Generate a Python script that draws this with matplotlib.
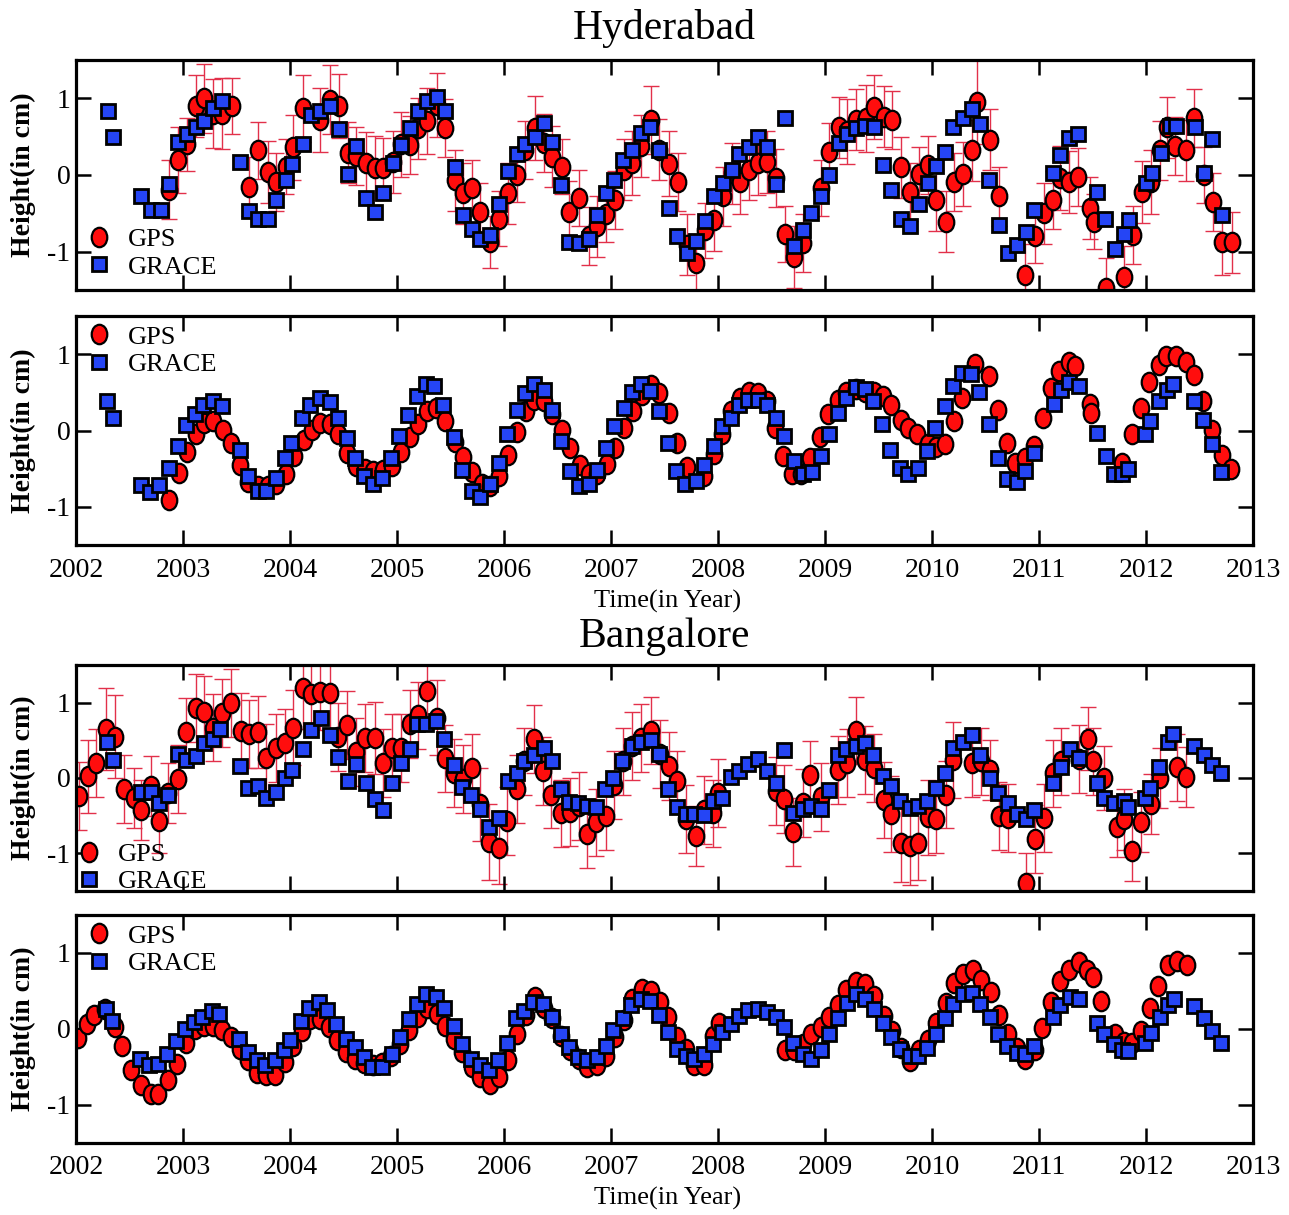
import matplotlib
matplotlib.use("Agg")
import matplotlib.pyplot as plt
from matplotlib.path import Path
from matplotlib.transforms import Affine2D

# ---- Hyderabad, observed (top panel) ----
hyd_gps_t = [2002.87, 2002.95, 2003.04, 2003.12, 2003.20, 2003.28, 2003.36, 2003.46, 2003.62, 2003.70,
             2003.79, 2003.87, 2003.96, 2004.03, 2004.12, 2004.28, 2004.37, 2004.46, 2004.54, 2004.62,
             2004.71, 2004.79, 2004.87, 2004.96, 2005.04, 2005.12, 2005.20, 2005.28, 2005.37, 2005.45,
             2005.54, 2005.62, 2005.70, 2005.78, 2005.87, 2005.95, 2006.04, 2006.12, 2006.20, 2006.29,
             2006.37, 2006.45, 2006.54, 2006.61, 2006.70, 2006.79, 2006.87, 2006.95, 2007.04, 2007.12,
             2007.20, 2007.28, 2007.37, 2007.45, 2007.54, 2007.63, 2007.71, 2007.79, 2007.88, 2007.96,
             2008.05, 2008.13, 2008.21, 2008.29, 2008.37, 2008.46, 2008.54, 2008.63, 2008.71, 2008.79,
             2008.96, 2009.04, 2009.13, 2009.21, 2009.29, 2009.38, 2009.46, 2009.55, 2009.63, 2009.71,
             2009.79, 2009.88, 2009.96, 2010.04, 2010.13, 2010.21, 2010.29, 2010.37, 2010.42, 2010.54,
             2010.63, 2010.87, 2010.96, 2011.05, 2011.13, 2011.20, 2011.28, 2011.36, 2011.48, 2011.51,
             2011.63, 2011.79, 2011.88, 2011.96, 2012.05, 2012.13, 2012.20, 2012.27, 2012.37, 2012.45,
             2012.54, 2012.63, 2012.71, 2012.80]
hyd_gps_h = [-0.19, 0.20, 0.40, 0.90, 1.00, 0.80, 0.80, 0.90, -0.15, 0.32,
             0.04, -0.09, 0.11, 0.36, 0.87, 0.72, 0.98, 0.90, 0.29, 0.25,
             0.16, 0.09, 0.09, 0.17, 0.40, 0.39, 0.61, 0.70, 0.91, 0.61,
             -0.07, -0.24, -0.17, -0.48, -0.87, -0.57, -0.24, 0.00, 0.33, 0.61,
             0.42, 0.24, 0.11, -0.48, -0.30, -0.80, -0.67, -0.51, -0.33, 0.07,
             0.16, 0.38, 0.72, 0.33, 0.15, -0.09, -0.91, -1.15, -0.72, -0.59,
             -0.28, 0.02, -0.09, 0.06, 0.16, 0.17, -0.04, -0.77, -1.07, -0.89,
             -0.17, 0.30, 0.62, 0.57, 0.72, 0.74, 0.89, 0.76, 0.72, 0.10,
             -0.22, 0.01, 0.13, -0.33, -0.61, -0.09, 0.01, 0.32, 0.95, 0.46,
             -0.28, -1.30, -0.79, -0.50, -0.33, -0.04, -0.09, -0.03, -0.43, -0.61,
             -1.48, -1.33, -0.78, -0.22, -0.09, 0.32, 0.62, 0.38, 0.32, 0.74,
             0.00, -0.35, -0.88, -0.88]
hyd_gps_err = [0.38, 0.43, 0.35, 0.41, 0.45, 0.45, 0.46, 0.37, 0.39, 0.37,
               0.41, 0.38, 0.36, 0.42, 0.44, 0.42, 0.45, 0.42, 0.40, 0.38,
               0.40, 0.42, 0.39, 0.40, 0.42, 0.38, 0.40, 0.43, 0.42, 0.38,
               0.40, 0.40, 0.37, 0.38, 0.34, 0.36, 0.40, 0.35, 0.38, 0.42,
               0.38, 0.40, 0.36, 0.40, 0.36, 0.38, 0.40, 0.36, 0.38, 0.40,
               0.42, 0.40, 0.44, 0.40, 0.42, 0.38, 0.40, 0.38, 0.36, 0.40,
               0.38, 0.40, 0.42, 0.38, 0.42, 0.40, 0.38, 0.36, 0.40, 0.38,
               0.36, 0.38, 0.40, 0.42, 0.40, 0.44, 0.42, 0.40, 0.38, 0.40,
               0.38, 0.36, 0.38, 0.40, 0.40, 0.38, 0.42, 0.40, 0.55, 0.40,
               0.38, 0.40, 0.36, 0.40, 0.38, 0.42, 0.40, 0.38, 0.40, 0.36,
               0.40, 0.40, 0.38, 0.40, 0.42, 0.38, 0.40, 0.38, 0.40, 0.38,
               0.36, 0.38, 0.42, 0.40]
hyd_grace_t = [2002.30, 2002.35, 2002.61, 2002.70, 2002.79, 2002.87, 2002.95, 2003.04, 2003.12, 2003.20,
               2003.28, 2003.36, 2003.53, 2003.62, 2003.70, 2003.79, 2003.87, 2003.96, 2004.02, 2004.12,
               2004.20, 2004.28, 2004.37, 2004.46, 2004.54, 2004.62, 2004.71, 2004.79, 2004.87, 2004.96,
               2005.04, 2005.12, 2005.20, 2005.28, 2005.37, 2005.45, 2005.54, 2005.62, 2005.70, 2005.78,
               2005.87, 2005.95, 2006.04, 2006.12, 2006.20, 2006.29, 2006.37, 2006.45, 2006.53, 2006.61,
               2006.70, 2006.79, 2006.87, 2006.95, 2007.03, 2007.11, 2007.20, 2007.28, 2007.36, 2007.45,
               2007.54, 2007.62, 2007.71, 2007.79, 2007.88, 2007.96, 2008.05, 2008.13, 2008.20, 2008.29,
               2008.37, 2008.46, 2008.54, 2008.63, 2008.71, 2008.79, 2008.87, 2008.96, 2009.04, 2009.13,
               2009.21, 2009.29, 2009.37, 2009.46, 2009.54, 2009.62, 2009.71, 2009.79, 2009.88, 2009.96,
               2010.04, 2010.12, 2010.20, 2010.29, 2010.37, 2010.45, 2010.53, 2010.63, 2010.71, 2010.79,
               2010.88, 2010.95, 2011.13, 2011.20, 2011.28, 2011.36, 2011.54, 2011.62, 2011.71, 2011.79,
               2011.84, 2012.00, 2012.06, 2012.14, 2012.22, 2012.28, 2012.46, 2012.54, 2012.62, 2012.71]
hyd_grace_h = [0.83, 0.50, -0.28, -0.46, -0.45, -0.12, 0.43, 0.54, 0.63, 0.70,
               0.87, 0.97, 0.17, -0.47, -0.57, -0.57, -0.32, -0.06, 0.14, 0.40,
               0.78, 0.83, 0.90, 0.60, 0.01, 0.38, -0.30, -0.48, -0.23, 0.16,
               0.39, 0.61, 0.83, 0.96, 1.02, 0.83, 0.10, -0.52, -0.70, -0.84,
               -0.78, -0.38, 0.05, 0.28, 0.40, 0.49, 0.68, 0.43, -0.13, -0.88,
               -0.89, -0.83, -0.52, -0.23, -0.06, 0.20, 0.32, 0.55, 0.63, 0.33,
               -0.43, -0.80, -1.02, -0.86, -0.60, -0.28, -0.11, 0.06, 0.27, 0.36,
               0.49, 0.36, -0.12, 0.74, -0.93, -0.72, -0.49, -0.27, 0.00, 0.42,
               0.53, 0.61, 0.64, 0.63, 0.13, -0.20, -0.57, -0.67, -0.38, -0.11,
               0.12, 0.30, 0.62, 0.74, 0.86, 0.67, -0.06, -0.65, -1.02, -0.91,
               -0.74, -0.46, 0.03, 0.26, 0.48, 0.53, -0.22, -0.58, -0.97, -0.77,
               -0.59, -0.10, 0.03, 0.29, 0.64, 0.64, 0.63, 0.02, 0.47, -0.52]

# ---- Hyderabad, second panel ----
hyd2_gps_t = [2002.87, 2002.96, 2003.04, 2003.12, 2003.20, 2003.28, 2003.37, 2003.45, 2003.53, 2003.61,
              2003.70, 2003.79, 2003.87, 2003.96, 2004.04, 2004.13, 2004.21, 2004.28, 2004.37, 2004.45,
              2004.53, 2004.62, 2004.70, 2004.78, 2004.87, 2004.95, 2005.04, 2005.12, 2005.20, 2005.28,
              2005.36, 2005.45, 2005.54, 2005.62, 2005.70, 2005.79, 2005.87, 2005.95, 2006.04, 2006.12,
              2006.21, 2006.28, 2006.37, 2006.45, 2006.54, 2006.62, 2006.71, 2006.79, 2006.87, 2006.96,
              2007.04, 2007.12, 2007.21, 2007.29, 2007.37, 2007.45, 2007.54, 2007.62, 2007.71, 2007.87,
              2007.96, 2008.04, 2008.12, 2008.21, 2008.29, 2008.37, 2008.46, 2008.53, 2008.61, 2008.69,
              2008.78, 2008.86, 2008.95, 2009.03, 2009.12, 2009.20, 2009.29, 2009.37, 2009.46, 2009.54,
              2009.62, 2009.71, 2009.78, 2009.86, 2009.96, 2010.04, 2010.12, 2010.21, 2010.28, 2010.40,
              2010.53, 2010.62, 2010.70, 2010.78, 2010.87, 2010.95, 2011.04, 2011.11, 2011.19, 2011.28,
              2011.34, 2011.48, 2011.49, 2011.78, 2011.87, 2011.95, 2012.03, 2012.12, 2012.19, 2012.28,
              2012.37, 2012.45, 2012.53, 2012.62, 2012.71, 2012.79]
hyd2_gps_h = [-0.91, -0.56, -0.28, -0.04, 0.10, 0.12, 0.01, -0.17, -0.45, -0.68,
              -0.73, -0.73, -0.70, -0.57, -0.33, -0.12, 0.01, 0.10, 0.09, -0.04,
              -0.29, -0.47, -0.51, -0.53, -0.52, -0.47, -0.28, -0.09, 0.08, 0.25,
              0.29, 0.12, -0.15, -0.35, -0.55, -0.70, -0.73, -0.60, -0.32, -0.02,
              0.25, 0.40, 0.38, 0.21, 0.01, -0.23, -0.45, -0.57, -0.57, -0.44,
              -0.23, 0.03, 0.26, 0.46, 0.60, 0.49, 0.23, -0.16, -0.48, -0.60,
              -0.31, -0.05, 0.26, 0.43, 0.51, 0.49, 0.39, 0.03, -0.33, -0.57,
              -0.57, -0.36, -0.09, 0.22, 0.40, 0.51, 0.55, 0.51, 0.51, 0.45,
              0.34, 0.14, 0.03, -0.05, -0.18, -0.22, -0.18, 0.13, 0.42, 0.87,
              0.71, 0.27, -0.16, -0.42, -0.36, -0.20, 0.17, 0.56, 0.78, 0.90,
              0.84, 0.35, 0.23, -0.42, -0.05, 0.30, 0.63, 0.86, 0.97, 0.98,
              0.90, 0.73, 0.39, 0.01, -0.32, -0.51]
hyd2_grace_t = [2002.29, 2002.35, 2002.61, 2002.69, 2002.78, 2002.87, 2002.95, 2003.03, 2003.11, 2003.19,
                2003.28, 2003.36, 2003.53, 2003.61, 2003.70, 2003.78, 2003.87, 2003.95, 2004.01, 2004.11,
                2004.19, 2004.28, 2004.37, 2004.45, 2004.53, 2004.61, 2004.69, 2004.78, 2004.86, 2004.94,
                2005.02, 2005.10, 2005.19, 2005.27, 2005.35, 2005.43, 2005.53, 2005.61, 2005.70, 2005.78,
                2005.87, 2005.95, 2006.03, 2006.12, 2006.20, 2006.28, 2006.37, 2006.45, 2006.53, 2006.62,
                2006.70, 2006.79, 2006.87, 2006.95, 2007.03, 2007.12, 2007.20, 2007.28, 2007.36, 2007.45,
                2007.53, 2007.61, 2007.69, 2007.79, 2007.87, 2007.96, 2008.04, 2008.12, 2008.20, 2008.28,
                2008.37, 2008.46, 2008.54, 2008.62, 2008.71, 2008.79, 2008.88, 2008.96, 2009.04, 2009.12,
                2009.20, 2009.29, 2009.37, 2009.45, 2009.53, 2009.61, 2009.70, 2009.78, 2009.87, 2009.95,
                2010.03, 2010.12, 2010.20, 2010.28, 2010.36, 2010.44, 2010.53, 2010.62, 2010.70, 2010.79,
                2010.87, 2010.95, 2011.14, 2011.21, 2011.28, 2011.37, 2011.54, 2011.63, 2011.70, 2011.78,
                2011.83, 2011.99, 2012.04, 2012.12, 2012.20, 2012.25, 2012.45, 2012.53, 2012.62, 2012.70]
hyd2_grace_h = [0.39, 0.16, -0.71, -0.80, -0.71, -0.49, -0.20, 0.07, 0.21, 0.34,
                0.38, 0.32, -0.26, -0.60, -0.79, -0.79, -0.62, -0.36, -0.16, 0.16,
                0.34, 0.43, 0.37, 0.16, -0.10, -0.36, -0.60, -0.70, -0.62, -0.36,
                -0.07, 0.20, 0.45, 0.61, 0.58, 0.34, -0.09, -0.52, -0.79, -0.87,
                -0.70, -0.42, -0.05, 0.27, 0.49, 0.61, 0.53, 0.27, -0.14, -0.53,
                -0.73, -0.70, -0.52, -0.23, 0.06, 0.30, 0.51, 0.61, 0.52, 0.25,
                -0.17, -0.53, -0.70, -0.66, -0.45, -0.20, 0.06, 0.17, 0.34, 0.40,
                0.40, 0.33, 0.17, -0.07, -0.40, -0.57, -0.55, -0.33, -0.05, 0.23,
                0.43, 0.57, 0.55, 0.39, 0.08, -0.25, -0.49, -0.57, -0.49, -0.27,
                0.03, 0.32, 0.58, 0.75, 0.74, 0.51, 0.08, -0.36, -0.64, -0.68,
                -0.53, -0.30, 0.35, 0.53, 0.64, 0.58, -0.03, -0.33, -0.57, -0.57,
                -0.51, -0.04, 0.12, 0.38, 0.53, 0.61, 0.39, 0.14, -0.18, -0.55]

# ---- Bangalore, observed ----
ban_gps_t = [2002.03, 2002.11, 2002.19, 2002.28, 2002.36, 2002.45, 2002.54, 2002.61, 2002.70, 2002.78,
             2002.86, 2002.95, 2003.03, 2003.12, 2003.20, 2003.28, 2003.36, 2003.45, 2003.54, 2003.62,
             2003.70, 2003.78, 2003.87, 2003.95, 2004.03, 2004.12, 2004.20, 2004.28, 2004.37, 2004.45,
             2004.53, 2004.62, 2004.70, 2004.79, 2004.87, 2004.95, 2005.04, 2005.12, 2005.20, 2005.28,
             2005.37, 2005.45, 2005.53, 2005.62, 2005.70, 2005.78, 2005.86, 2005.95, 2006.03, 2006.12,
             2006.19, 2006.28, 2006.36, 2006.44, 2006.53, 2006.62, 2006.70, 2006.78, 2006.86, 2006.95,
             2007.03, 2007.11, 2007.20, 2007.28, 2007.37, 2007.46, 2007.54, 2007.62, 2007.70, 2007.79,
             2007.87, 2007.95, 2008.00, 2008.54, 2008.62, 2008.70, 2008.79, 2008.86, 2008.96, 2009.12,
             2009.21, 2009.29, 2009.37, 2009.46, 2009.55, 2009.62, 2009.71, 2009.79, 2009.87, 2009.96,
             2010.04, 2010.13, 2010.20, 2010.37, 2010.46, 2010.54, 2010.63, 2010.71, 2010.88, 2010.96,
             2011.05, 2011.13, 2011.21, 2011.37, 2011.46, 2011.50, 2011.61, 2011.73, 2011.79, 2011.87,
             2011.95, 2012.05, 2012.13, 2012.29, 2012.37]
ban_gps_h = [-0.24, 0.02, 0.20, 0.65, 0.55, -0.15, -0.27, -0.42, -0.11, -0.57,
             -0.20, -0.01, 0.61, 0.93, 0.87, 0.67, 0.86, 1.00, 0.63, 0.58,
             0.61, 0.27, 0.40, 0.47, 0.67, 1.20, 1.11, 1.14, 1.13, 0.54,
             0.70, 0.35, 0.53, 0.53, 0.20, 0.40, 0.40, 0.72, 0.83, 1.15,
             0.80, 0.26, 0.07, -0.01, 0.13, -0.35, -0.85, -0.93, -0.57, -0.15,
             0.22, 0.52, 0.09, -0.22, -0.47, -0.45, -0.37, -0.75, -0.59, -0.51,
             -0.09, 0.22, 0.42, 0.53, 0.63, 0.32, 0.16, -0.04, -0.54, -0.77,
             -0.42, -0.47, -0.20, -0.17, -0.28, -0.72, -0.33, 0.04, -0.25, 0.11,
             0.20, 0.63, 0.24, 0.13, -0.29, -0.48, -0.86, -0.90, -0.86, -0.52,
             -0.55, -0.22, 0.24, 0.20, 0.22, 0.11, -0.50, -0.53, -1.40, -0.81,
             -0.53, 0.06, 0.22, 0.25, 0.52, 0.22, 0.00, -0.65, -0.55, -0.97,
             -0.58, -0.35, 0.00, 0.14, 0.01]
ban_gps_err = [0.45, 0.48, 0.45, 0.55, 0.55, 0.45, 0.40, 0.40, 0.40, 0.42,
               0.40, 0.45, 0.45, 0.45, 0.48, 0.45, 0.45, 0.45, 0.50, 0.45,
               0.48, 0.45, 0.45, 0.45, 0.50, 0.55, 0.50, 0.50, 0.50, 0.45,
               0.45, 0.45, 0.45, 0.48, 0.45, 0.45, 0.45, 0.45, 0.45, 0.45,
               0.50, 0.45, 0.45, 0.45, 0.45, 0.48, 0.50, 0.48, 0.45, 0.45,
               0.45, 0.45, 0.45, 0.45, 0.45, 0.45, 0.45, 0.45, 0.45, 0.45,
               0.45, 0.45, 0.45, 0.45, 0.45, 0.45, 0.45, 0.40, 0.45, 0.40,
               0.45, 0.45, 0.45, 0.45, 0.45, 0.45, 0.45, 0.45, 0.45, 0.45,
               0.45, 0.45, 0.45, 0.45, 0.50, 0.50, 0.52, 0.52, 0.50, 0.50,
               0.45, 0.45, 0.50, 0.45, 0.45, 0.40, 0.45, 0.45, 0.40, 0.45,
               0.45, 0.45, 0.45, 0.45, 0.42, 0.45, 0.42, 0.40, 0.40, 0.40,
               0.40, 0.40, 0.40, 0.45, 0.40]
ban_grace_t = [2002.29, 2002.35, 2002.61, 2002.70, 2002.78, 2002.86, 2002.95, 2003.03, 2003.12, 2003.20,
               2003.28, 2003.35, 2003.53, 2003.61, 2003.70, 2003.78, 2003.87, 2003.95, 2004.02, 2004.12,
               2004.20, 2004.29, 2004.37, 2004.45, 2004.54, 2004.62, 2004.71, 2004.79, 2004.87, 2004.95,
               2005.04, 2005.12, 2005.19, 2005.27, 2005.36, 2005.44, 2005.53, 2005.61, 2005.69, 2005.78,
               2005.86, 2005.95, 2006.04, 2006.12, 2006.19, 2006.28, 2006.37, 2006.45, 2006.53, 2006.61,
               2006.69, 2006.78, 2006.86, 2006.94, 2007.02, 2007.10, 2007.20, 2007.28, 2007.37, 2007.45,
               2007.53, 2007.62, 2007.70, 2007.78, 2007.87, 2007.95, 2008.04, 2008.12, 2008.20, 2008.28,
               2008.37, 2008.46, 2008.54, 2008.62, 2008.70, 2008.79, 2008.87, 2008.96, 2009.04, 2009.12,
               2009.20, 2009.29, 2009.37, 2009.45, 2009.54, 2009.62, 2009.70, 2009.79, 2009.87, 2009.95,
               2010.04, 2010.12, 2010.20, 2010.29, 2010.37, 2010.45, 2010.54, 2010.62, 2010.71, 2010.79,
               2010.88, 2010.95, 2011.13, 2011.21, 2011.29, 2011.37, 2011.54, 2011.61, 2011.70, 2011.79,
               2011.83, 2011.99, 2012.04, 2012.12, 2012.21, 2012.25, 2012.45, 2012.54, 2012.62, 2012.70]
ban_grace_h = [0.48, 0.24, -0.19, -0.19, -0.33, -0.22, 0.32, 0.24, 0.29, 0.47,
               0.52, 0.65, 0.16, -0.13, -0.10, -0.27, -0.19, 0.00, 0.11, 0.38,
               0.64, 0.80, 0.57, 0.28, -0.04, 0.19, -0.06, -0.28, -0.43, -0.06,
               0.20, 0.39, 0.72, 0.72, 0.76, 0.52, 0.17, -0.12, -0.22, -0.41,
               -0.65, -0.53, -0.04, 0.06, 0.23, 0.30, 0.40, 0.23, -0.14, -0.32,
               -0.33, -0.37, -0.38, -0.14, 0.00, 0.23, 0.43, 0.48, 0.50, 0.32,
               -0.14, -0.39, -0.48, -0.48, -0.49, -0.30, -0.27, 0.01, 0.09, 0.19,
               0.25, 0.09, -0.07, 0.37, -0.47, -0.41, -0.37, -0.41, -0.16, 0.30,
               0.39, 0.42, 0.46, 0.30, 0.02, -0.10, -0.30, -0.40, -0.37, -0.30,
               -0.13, 0.07, 0.40, 0.48, 0.57, 0.31, 0.00, -0.20, -0.33, -0.48,
               -0.55, -0.43, -0.07, 0.14, 0.39, 0.26, -0.07, -0.27, -0.33, -0.30,
               -0.38, -0.27, -0.13, 0.15, 0.48, 0.58, 0.43, 0.30, 0.17, 0.07]

# ---- Bangalore, second panel ----
ban2_gps_t = [2002.02, 2002.10, 2002.17, 2002.27, 2002.36, 2002.43, 2002.51, 2002.61, 2002.70, 2002.77,
              2002.86, 2002.94, 2003.03, 2003.11, 2003.20, 2003.28, 2003.36, 2003.45, 2003.53, 2003.61,
              2003.69, 2003.78, 2003.86, 2003.95, 2004.03, 2004.11, 2004.19, 2004.28, 2004.36, 2004.44,
              2004.52, 2004.61, 2004.69, 2004.78, 2004.86, 2004.94, 2005.03, 2005.11, 2005.20, 2005.28,
              2005.37, 2005.45, 2005.53, 2005.61, 2005.70, 2005.78, 2005.87, 2005.95, 2006.04, 2006.12,
              2006.21, 2006.29, 2006.37, 2006.45, 2006.53, 2006.62, 2006.70, 2006.78, 2006.87, 2006.95,
              2007.04, 2007.12, 2007.20, 2007.29, 2007.37, 2007.46, 2007.53, 2007.62, 2007.70, 2007.78,
              2007.87, 2007.95, 2008.01, 2008.63, 2008.71, 2008.79, 2008.87, 2008.96, 2009.04, 2009.12,
              2009.20, 2009.29, 2009.37, 2009.46, 2009.55, 2009.63, 2009.71, 2009.79, 2009.88, 2009.96,
              2010.04, 2010.13, 2010.21, 2010.29, 2010.38, 2010.46, 2010.55, 2010.63, 2010.71, 2010.79,
              2010.87, 2010.96, 2011.03, 2011.11, 2011.20, 2011.28, 2011.37, 2011.45, 2011.50, 2011.58,
              2011.71, 2011.79, 2011.87, 2011.95, 2012.04, 2012.11, 2012.21, 2012.29, 2012.38]
ban2_gps_h = [-0.12, 0.06, 0.19, 0.26, 0.03, -0.22, -0.54, -0.74, -0.85, -0.86,
              -0.67, -0.46, -0.19, 0.00, 0.04, 0.04, -0.01, -0.11, -0.26, -0.41,
              -0.58, -0.61, -0.61, -0.43, -0.23, -0.02, 0.13, 0.13, 0.02, -0.15,
              -0.30, -0.40, -0.45, -0.47, -0.45, -0.35, -0.20, -0.01, 0.16, 0.28,
              0.20, 0.04, -0.13, -0.30, -0.50, -0.63, -0.72, -0.63, -0.41, -0.07,
              0.19, 0.42, 0.28, 0.15, -0.09, -0.28, -0.40, -0.50, -0.48, -0.36,
              -0.11, 0.12, 0.40, 0.53, 0.50, 0.36, 0.16, -0.10, -0.26, -0.47,
              -0.47, -0.09, 0.08, -0.27, -0.27, -0.20, -0.07, 0.03, 0.16, 0.32,
              0.51, 0.62, 0.59, 0.43, 0.17, -0.03, -0.25, -0.42, -0.27, -0.14,
              0.08, 0.34, 0.60, 0.73, 0.77, 0.64, 0.49, 0.19, -0.06, -0.25,
              -0.39, -0.28, 0.01, 0.36, 0.63, 0.78, 0.88, 0.78, 0.69, 0.37,
              -0.06, -0.17, -0.18, -0.03, 0.27, 0.57, 0.84, 0.90, 0.84]
ban2_grace_t = [2002.28, 2002.34, 2002.60, 2002.68, 2002.77, 2002.85, 2002.93, 2003.02, 2003.10, 2003.18,
                2003.27, 2003.34, 2003.52, 2003.61, 2003.69, 2003.77, 2003.86, 2003.94, 2004.00, 2004.10,
                2004.18, 2004.27, 2004.35, 2004.43, 2004.52, 2004.61, 2004.69, 2004.77, 2004.86, 2004.95,
                2005.03, 2005.11, 2005.19, 2005.27, 2005.36, 2005.44, 2005.53, 2005.61, 2005.69, 2005.78,
                2005.86, 2005.94, 2006.03, 2006.11, 2006.19, 2006.27, 2006.36, 2006.45, 2006.53, 2006.61,
                2006.69, 2006.78, 2006.87, 2006.95, 2007.02, 2007.11, 2007.19, 2007.28, 2007.36, 2007.45,
                2007.53, 2007.62, 2007.70, 2007.78, 2007.87, 2007.95, 2008.04, 2008.12, 2008.20, 2008.28,
                2008.37, 2008.46, 2008.54, 2008.62, 2008.70, 2008.79, 2008.87, 2008.96, 2009.04, 2009.12,
                2009.21, 2009.29, 2009.37, 2009.46, 2009.54, 2009.62, 2009.70, 2009.79, 2009.87, 2009.95,
                2010.04, 2010.12, 2010.20, 2010.29, 2010.37, 2010.45, 2010.54, 2010.62, 2010.70, 2010.79,
                2010.87, 2010.95, 2011.13, 2011.20, 2011.29, 2011.37, 2011.54, 2011.61, 2011.70, 2011.78,
                2011.83, 2011.99, 2012.05, 2012.13, 2012.21, 2012.26, 2012.45, 2012.54, 2012.62, 2012.70]
ban2_grace_h = [0.26, 0.11, -0.39, -0.47, -0.46, -0.33, -0.16, 0.00, 0.09, 0.16,
                0.24, 0.20, -0.13, -0.30, -0.41, -0.48, -0.41, -0.28, -0.15, 0.11,
                0.28, 0.35, 0.25, 0.07, -0.13, -0.24, -0.37, -0.50, -0.50, -0.33,
                -0.11, 0.13, 0.33, 0.46, 0.42, 0.27, 0.04, -0.20, -0.40, -0.48,
                -0.54, -0.41, -0.19, 0.14, 0.24, 0.35, 0.33, 0.16, -0.06, -0.24,
                -0.37, -0.41, -0.37, -0.22, -0.01, 0.15, 0.32, 0.40, 0.37, 0.19,
                -0.04, -0.26, -0.36, -0.40, -0.33, -0.20, -0.04, 0.06, 0.17, 0.25,
                0.26, 0.23, 0.16, 0.03, -0.18, -0.33, -0.40, -0.27, -0.07, 0.14,
                0.34, 0.46, 0.40, 0.26, 0.08, -0.10, -0.26, -0.35, -0.35, -0.25,
                -0.07, 0.14, 0.33, 0.46, 0.47, 0.33, 0.16, -0.06, -0.23, -0.31,
                -0.33, -0.23, 0.16, 0.32, 0.42, 0.39, 0.08, -0.07, -0.20, -0.28,
                -0.29, -0.18, -0.05, 0.16, 0.32, 0.39, 0.30, 0.14, -0.03, -0.18]

years = list(range(2002, 2014))
yticks = [-1, 0, 1]

plt.rcParams["font.family"] = ["Liberation Serif", "DejaVu Serif"]
plt.rcParams["axes.unicode_minus"] = False

RED = "#ff0d0d"
BLUE = "#2545f5"
BAR = "#e2304a"
# the circles in the original are a bit taller than wide
oval = Path.unit_circle().transformed(Affine2D().scale(0.8, 1.0))

W, H = 1289, 1215
fig = plt.figure(figsize=(W / 100, H / 100), dpi=100)


def make_axes(top, bottom, left=76, right=1253):
    return fig.add_axes([left / W, 1 - bottom / H, (right - left) / W, (bottom - top) / H])


def draw(ax, gps_t, gps_h, grace_t, grace_h, err=None, leg_loc="lower left",
         leg_anchor=(0.008, 0.05), xlabels=False):
    assert len(gps_t) == len(gps_h) and len(grace_t) == len(grace_h)
    if err is not None:
        assert len(err) == len(gps_t)
        ax.errorbar(gps_t, gps_h, yerr=err, fmt="none", ecolor=BAR, elinewidth=1.0,
                    capsize=6, capthick=1.0, zorder=1)
    ax.plot(gps_t, gps_h, ls="none", marker=oval, ms=14, mfc=RED, mec="black",
            mew=1.6, label="GPS", zorder=2)
    ax.plot(grace_t, grace_h, ls="none", marker="s", ms=10, mfc=BLUE, mec="black",
            mew=2.0, label="GRACE", zorder=3)
    ax.set_xlim(2002, 2013)
    ax.set_ylim(-1.5, 1.5)
    ax.set_xticks(years)
    ax.set_yticks(yticks)
    ax.set_xticklabels([str(y) for y in years])
    ax.set_yticklabels(["-1", "0", "1"])
    ax.tick_params(direction="in", top=True, right=True, length=11, width=1.8,
                   labelsize=20, pad=4)
    ax.tick_params(axis="x", pad=9, labelbottom=xlabels)
    for s in ax.spines.values():
        s.set_linewidth(2.3)
    ax.set_ylabel("Height(in cm)", fontsize=20, fontweight="bold")
    ax.yaxis.set_label_coords(-0.034, 0.5)
    ax.legend(loc=leg_loc, bbox_to_anchor=leg_anchor, frameon=False, fontsize=19,
              handlelength=1.0, handletextpad=0.6, borderpad=0, borderaxespad=0,
              labelspacing=0.15, numpoints=1)


ax1 = make_axes(60, 290)
draw(ax1, hyd_gps_t, hyd_gps_h, hyd_grace_t, hyd_grace_h, err=hyd_gps_err,
     leg_loc="lower left", leg_anchor=(0.008, 0.05))

ax2 = make_axes(316, 545)
draw(ax2, hyd2_gps_t, hyd2_gps_h, hyd2_grace_t, hyd2_grace_h,
     leg_loc="upper left", leg_anchor=(0.008, 0.96), xlabels=True)

ax3 = make_axes(665, 891)
draw(ax3, ban_gps_t, ban_gps_h, ban_grace_t, ban_grace_h, err=ban_gps_err,
     leg_loc="lower left", leg_anchor=(0.0, -0.01))

ax4 = make_axes(915, 1143)
draw(ax4, ban2_gps_t, ban2_gps_h, ban2_grace_t, ban2_grace_h,
     leg_loc="upper left", leg_anchor=(0.008, 0.96), xlabels=True)

fig.text(664 / W, 1 - 28 / H, "Hyderabad", ha="center", va="center", fontsize=30)
fig.text(664 / W, 1 - 637 / H, "Bangalore", ha="center", va="center", fontsize=30)
fig.text(668 / W, 1 - 601 / H, "Time(in Year)", ha="center", va="center", fontsize=19)
fig.text(668 / W, 1 - 1198 / H, "Time(in Year)", ha="center", va="center", fontsize=19)

fig.savefig("out.png", dpi=100)
